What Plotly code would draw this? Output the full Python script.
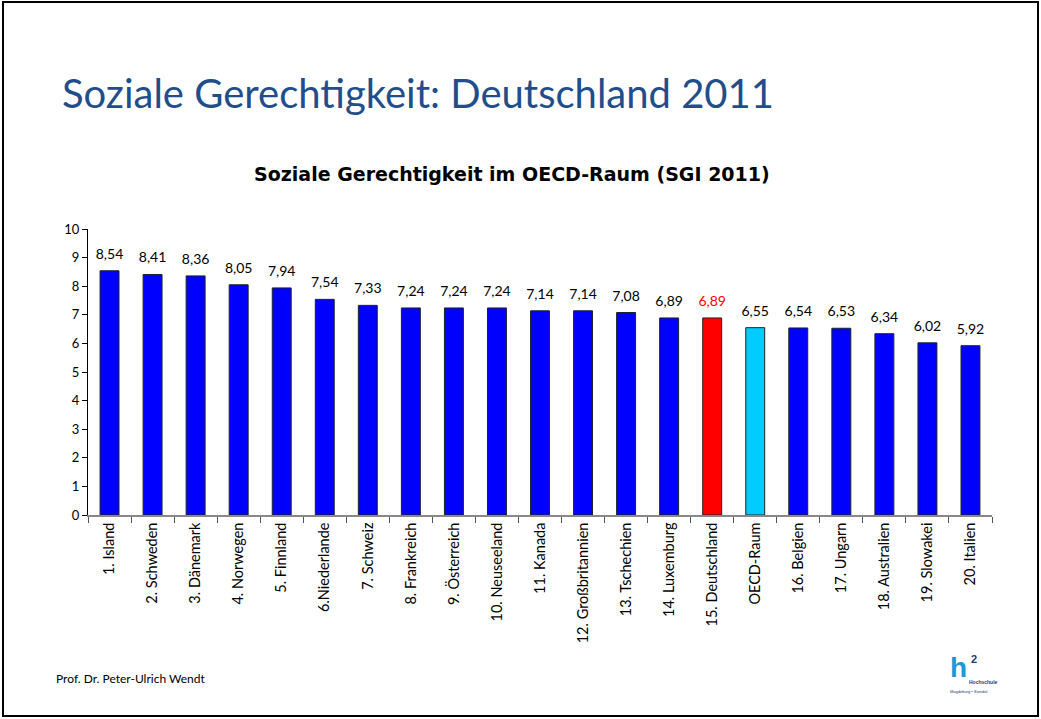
import plotly.graph_objects as go

categories = ["1. Island", "2. Schweden", "3. Dänemark", "4. Norwegen", "5. Finnland",
              "6.Niederlande", "7. Schweiz", "8. Frankreich", "9. Österreich", "10. Neuseeland",
              "11. Kanada", "12. Großbritannien", "13. Tschechien", "14. Luxemburg",
              "15. Deutschland", "OECD-Raum", "16. Belgien", "17. Ungarn", "18. Australien",
              "19. Slowakei", "20. Italien"]
values = [8.54, 8.41, 8.36, 8.05, 7.94, 7.54, 7.33, 7.24, 7.24, 7.24, 7.14, 7.14, 7.08,
          6.89, 6.89, 6.55, 6.54, 6.53, 6.34, 6.02, 5.92]
y_ticks = [0, 1, 2, 3, 4, 5, 6, 7, 8, 9, 10]

highlight = {"15. Deutschland": "#FF0000", "OECD-Raum": "#00CCFF"}
bar_colors = [highlight.get(c, "#0000FF") for c in categories]
label_colors = ["#FF0000" if c == "15. Deutschland" else "#000000" for c in categories]

W, H = 1041, 719
L, R, T, B = 88, 49, 229, 204
pw, ph = W - L - R, H - T - B

def px(x):
    return (x - L) / pw

def py(y):
    return (H - B - y) / ph

FONT = "Lato, 'Noto Sans', sans-serif"

fig = go.Figure()
fig.add_trace(go.Bar(
    x=categories, y=values,
    marker=dict(color=bar_colors, line=dict(color="#222222", width=1)),
    width=0.44, hoverinfo="x+y",
))
fig.add_trace(go.Scatter(
    x=categories, y=values, mode="markers+text",
    marker=dict(size=12, opacity=0),
    text=[f"{v:.2f}".replace(".", ",") for v in values], textposition="top center",
    textfont=dict(size=14, color=label_colors, family=FONT),
    cliponaxis=False, hoverinfo="skip",
))

fig.update_layout(
    width=W, height=H, separators=",.",
    margin=dict(l=L, r=R, t=T, b=B, autoexpand=False),
    plot_bgcolor="white", paper_bgcolor="white",
    showlegend=False,
    font=dict(family=FONT, color="#000000"),
    xaxis=dict(range=[-0.5, len(categories) - 0.5], showline=True, linecolor="#888888",
               linewidth=1.5, ticks="outside",
               tickson="boundaries", ticklen=6, tickcolor="#555555", tickangle=-90,
               tickfont=dict(size=14.5, family=FONT), showgrid=False, fixedrange=True),
    yaxis=dict(range=[0, 10], tickvals=y_ticks, showline=True, linecolor="#000000",
               linewidth=1, ticks="outside", ticklen=5, tickcolor="#000000",
               tickfont=dict(size=13, family=FONT), showgrid=False, zeroline=False,
               fixedrange=True),
)

fig.add_shape(type="rect", xref="paper", yref="paper",
              x0=px(3), x1=px(1038), y0=py(716), y1=py(2),
              line=dict(color="#000000", width=2), layer="below")

fig.add_annotation(text="Soziale Gerechtigkeit: Deutschland 2011", xref="paper", yref="paper",
                   x=px(60), y=py(93), xanchor="left", yanchor="middle", showarrow=False,
                   font=dict(size=40, color="#1F4E8A", family=FONT))
fig.add_annotation(text="<b>Soziale Gerechtigkeit im OECD-Raum (SGI 2011)</b>", xref="paper",
                   yref="paper", x=px(512), y=py(174), xanchor="center", yanchor="middle",
                   showarrow=False, font=dict(size=19, color="#000000", family="DejaVu Sans"))
fig.add_annotation(text="Prof. Dr. Peter-Ulrich Wendt", xref="paper", yref="paper",
                   x=px(54), y=py(678), xanchor="left", yanchor="middle", showarrow=False,
                   font=dict(size=12, color="#000000", family=FONT))
# logo
fig.add_annotation(text="<b>h</b>", xref="paper", yref="paper", x=px(958), y=py(667),
                   xanchor="center", yanchor="middle", showarrow=False, borderpad=0,
                   font=dict(size=28, color="#1A9AD6", family="Arial"))
fig.add_annotation(text="<b>2</b>", xref="paper", yref="paper", x=px(974), y=py(659),
                   xanchor="center", yanchor="middle", showarrow=False, borderpad=0,
                   font=dict(size=11, color="#1F3A6E", family="Arial"))
fig.add_annotation(text="<b>Hochschule</b>", xref="paper", yref="paper", x=px(968), y=py(682),
                   xanchor="left", yanchor="middle", showarrow=False, borderpad=0,
                   font=dict(size=5, color="#1F3A6E", family="Arial"))
fig.add_annotation(text="Magdeburg • Stendal", xref="paper", yref="paper", x=px(969), y=py(691),
                   xanchor="center", yanchor="middle", showarrow=False, borderpad=0,
                   font=dict(size=4, color="#1F3A6E", family="Arial"))

fig.write_html("out.html", config={"displayModeBar": False},
               post_script="document.body.style.margin='0';document.body.style.overflow='hidden';")
